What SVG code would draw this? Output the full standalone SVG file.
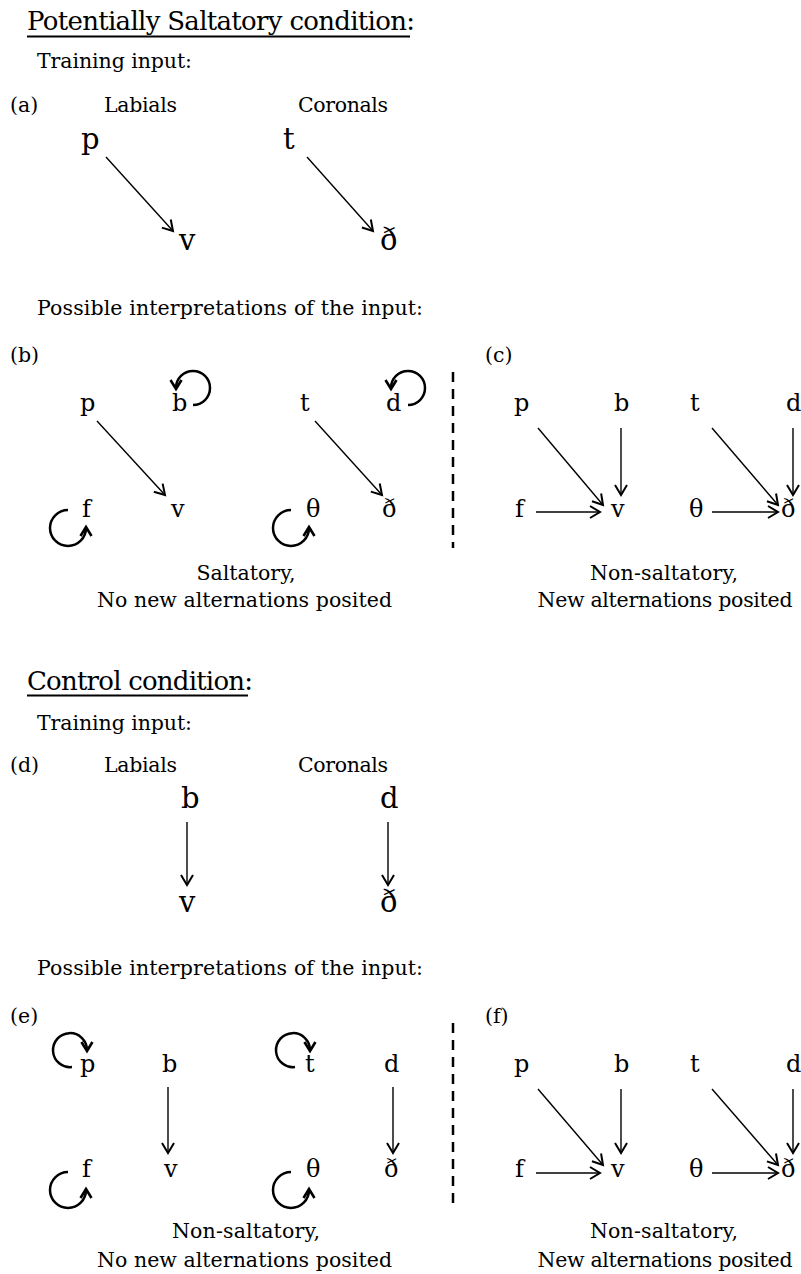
<svg xmlns="http://www.w3.org/2000/svg" width="801" height="1274" viewBox="0 0 801 1274">
<style>
text{font-family:"DejaVu Serif","Liberation Serif",serif;fill:#000}
.t{font-size:20.5px}
.h{font-size:26px}
.L{font-size:29px}
.s{font-size:24px}
.m{text-anchor:middle}
.ar{stroke:#000;stroke-width:1.4;fill:none}
.lp{stroke:#000;stroke-width:2.5;fill:none}
.dash{stroke:#000;stroke-width:2.5;stroke-dasharray:10 7}
.ul{stroke:#000;stroke-width:1.8}
</style>
<defs>
<marker id="ah" markerUnits="userSpaceOnUse" viewBox="-12 -8 14 16" markerWidth="14" markerHeight="16" refX="0" refY="0" orient="auto" overflow="visible">
<path d="M-10,-6 L0,0 L-10,6" fill="none" stroke="#000" stroke-width="2"/>
</marker>
<marker id="lh" markerUnits="userSpaceOnUse" viewBox="-12 -8 14 16" markerWidth="14" markerHeight="16" refX="0" refY="0" orient="auto" overflow="visible">
<path d="M-8,-5.5 L1,0 L-8,5.5" fill="none" stroke="#000" stroke-width="2.6"/>
</marker>
</defs>
<rect width="801" height="1274" fill="#fff"/>

<g id="headings">
<text class="h" x="27" y="30" textLength="388" lengthAdjust="spacing">Potentially Saltatory condition:</text>
<line class="ul" x1="27" y1="36.5" x2="410" y2="36.5"/>
<text class="t" x="37" y="68" textLength="155" lengthAdjust="spacing">Training input:</text>
<text class="t" x="37" y="315" textLength="386" lengthAdjust="spacing">Possible interpretations of the input:</text>
<text class="h" x="27" y="690" textLength="226" lengthAdjust="spacing">Control condition:</text>
<line class="ul" x1="27" y1="695.5" x2="248" y2="695.5"/>
<text class="t" x="37" y="730" textLength="155" lengthAdjust="spacing">Training input:</text>
<text class="t" x="37" y="975" textLength="386" lengthAdjust="spacing">Possible interpretations of the input:</text>
</g>

<g id="panel-a">
<text class="t" x="10" y="112">(a)</text>
<text class="t" x="104" y="112" textLength="73" lengthAdjust="spacing">Labials</text>
<text class="t" x="298" y="112" textLength="90" lengthAdjust="spacing">Coronals</text>
<g id="a-p"><text class="L" x="81" y="149">p</text></g>
<g id="a-t"><text class="L" x="283" y="149">t</text></g>
<g id="a-v"><text class="L" x="179" y="250">v</text></g>
<g id="a-eth"><text class="L" x="380" y="250">ð</text></g>
</g>

<g id="panel-b">
<text class="t" x="10" y="362">(b)</text>
<g id="b-p"><text class="s" x="80" y="411">p</text></g>
<g id="b-b"><text class="s" x="172" y="411">b</text></g>
<g id="b-t"><text class="s" x="300" y="411">t</text></g>
<g id="b-d"><text class="s" x="386" y="411">d</text></g>
<g id="b-f"><text class="s" x="82" y="517">f</text></g>
<g id="b-v"><text class="s" x="171" y="517">v</text></g>
<g id="b-theta"><text class="s" x="306" y="517">θ</text></g>
<g id="b-eth"><text class="s" x="382" y="517">ð</text></g>
<text class="t m" x="246" y="580">Saltatory,</text>
<text class="t m" x="244.5" y="607" textLength="295" lengthAdjust="spacing">No new alternations posited</text>
</g>

<g id="panel-c">
<text class="t" x="485" y="362">(c)</text>
<g id="c-p"><text class="s" x="514" y="411">p</text></g>
<g id="c-b"><text class="s" x="614" y="411">b</text></g>
<g id="c-t"><text class="s" x="690" y="411">t</text></g>
<g id="c-d"><text class="s" x="786" y="411">d</text></g>
<g id="c-f"><text class="s" x="515" y="517">f</text></g>
<g id="c-v"><text class="s" x="611" y="517">v</text></g>
<g id="c-theta"><text class="s" x="689" y="517">θ</text></g>
<g id="c-eth"><text class="s" x="781" y="517">ð</text></g>
<text class="t m" x="664" y="580" textLength="148" lengthAdjust="spacing">Non-saltatory,</text>
<text class="t m" x="665" y="607" textLength="255" lengthAdjust="spacing">New alternations posited</text>
</g>

<g id="panel-d">
<text class="t" x="10" y="772">(d)</text>
<text class="t" x="104" y="772" textLength="73" lengthAdjust="spacing">Labials</text>
<text class="t" x="298" y="772" textLength="90" lengthAdjust="spacing">Coronals</text>
<g id="d-b"><text class="L" x="181" y="808">b</text></g>
<g id="d-d"><text class="L" x="380" y="808">d</text></g>
<g id="d-v"><text class="L" x="179" y="912">v</text></g>
<g id="d-eth"><text class="L" x="380" y="912">ð</text></g>
</g>

<g id="panel-e">
<text class="t" x="10" y="1023">(e)</text>
<g id="e-p"><text class="s" x="80" y="1072">p</text></g>
<g id="e-b"><text class="s" x="162" y="1072">b</text></g>
<g id="e-t"><text class="s" x="305" y="1072">t</text></g>
<g id="e-d"><text class="s" x="384" y="1072">d</text></g>
<g id="e-f"><text class="s" x="82" y="1177">f</text></g>
<g id="e-v"><text class="s" x="164" y="1177">v</text></g>
<g id="e-theta"><text class="s" x="306" y="1177">θ</text></g>
<g id="e-eth"><text class="s" x="384" y="1177">ð</text></g>
<text class="t m" x="246" y="1238" textLength="148" lengthAdjust="spacing">Non-saltatory,</text>
<text class="t m" x="244.5" y="1267" textLength="295" lengthAdjust="spacing">No new alternations posited</text>
</g>

<g id="panel-f">
<text class="t" x="485" y="1023">(f)</text>
<g id="f-p"><text class="s" x="514" y="1072">p</text></g>
<g id="f-b"><text class="s" x="614" y="1072">b</text></g>
<g id="f-t"><text class="s" x="690" y="1072">t</text></g>
<g id="f-d"><text class="s" x="786" y="1072">d</text></g>
<g id="f-f"><text class="s" x="515" y="1177">f</text></g>
<g id="f-v"><text class="s" x="611" y="1177">v</text></g>
<g id="f-theta"><text class="s" x="689" y="1177">θ</text></g>
<g id="f-eth"><text class="s" x="781" y="1177">ð</text></g>
<text class="t m" x="664" y="1238" textLength="148" lengthAdjust="spacing">Non-saltatory,</text>
<text class="t m" x="665" y="1267" textLength="255" lengthAdjust="spacing">New alternations posited</text>
</g>

<g id="connectors">
<line class="ar" x1="106" y1="157" x2="173" y2="231" marker-end="url(#ah)"/>
<line class="ar" x1="307" y1="157" x2="373" y2="231" marker-end="url(#ah)"/>
<line class="ar" x1="97" y1="421" x2="165" y2="495" marker-end="url(#ah)"/>
<line class="ar" x1="315" y1="421" x2="382" y2="495" marker-end="url(#ah)"/>
<path class="lp" d="M193,405 A17,17 0 1 0 176,388" marker-end="url(#lh)"/>
<path class="lp" d="M408,405 A17,17 0 1 0 391,388" marker-end="url(#lh)"/>
<path class="lp" d="M68,510 A18,18 0 1 0 86,528" marker-end="url(#lh)"/>
<path class="lp" d="M291,510 A18,18 0 1 0 309,528" marker-end="url(#lh)"/>
<line class="dash" x1="453" y1="372" x2="453" y2="548"/>
<line class="ar" x1="538" y1="428" x2="603" y2="505" marker-end="url(#ah)"/>
<line class="ar" x1="621" y1="428" x2="621" y2="495" marker-end="url(#ah)"/>
<line class="ar" x1="536" y1="512" x2="600" y2="512" marker-end="url(#ah)"/>
<line class="ar" x1="712" y1="428" x2="778" y2="505" marker-end="url(#ah)"/>
<line class="ar" x1="793" y1="428" x2="793" y2="495" marker-end="url(#ah)"/>
<line class="ar" x1="712" y1="512" x2="778" y2="512" marker-end="url(#ah)"/>
<line class="ar" x1="187" y1="822" x2="187" y2="885" marker-end="url(#ah)"/>
<line class="ar" x1="388" y1="822" x2="388" y2="885" marker-end="url(#ah)"/>
<line class="ar" x1="168" y1="1087" x2="168" y2="1153" marker-end="url(#ah)"/>
<line class="ar" x1="393" y1="1087" x2="393" y2="1153" marker-end="url(#ah)"/>
<path class="lp" d="M72,1067 A17,17 0 1 1 87,1050" marker-end="url(#lh)"/>
<path class="lp" d="M295,1067 A17,17 0 1 1 310,1050" marker-end="url(#lh)"/>
<path class="lp" d="M68,1172 A18,18 0 1 0 86,1190" marker-end="url(#lh)"/>
<path class="lp" d="M291,1172 A18,18 0 1 0 309,1190" marker-end="url(#lh)"/>
<line class="dash" x1="453" y1="1023" x2="453" y2="1208"/>
<line class="ar" x1="538" y1="1089" x2="603" y2="1165" marker-end="url(#ah)"/>
<line class="ar" x1="621" y1="1089" x2="621" y2="1153" marker-end="url(#ah)"/>
<line class="ar" x1="536" y1="1173" x2="600" y2="1173" marker-end="url(#ah)"/>
<line class="ar" x1="712" y1="1089" x2="778" y2="1165" marker-end="url(#ah)"/>
<line class="ar" x1="793" y1="1089" x2="793" y2="1153" marker-end="url(#ah)"/>
<line class="ar" x1="712" y1="1173" x2="778" y2="1173" marker-end="url(#ah)"/>
</g>
</svg>
